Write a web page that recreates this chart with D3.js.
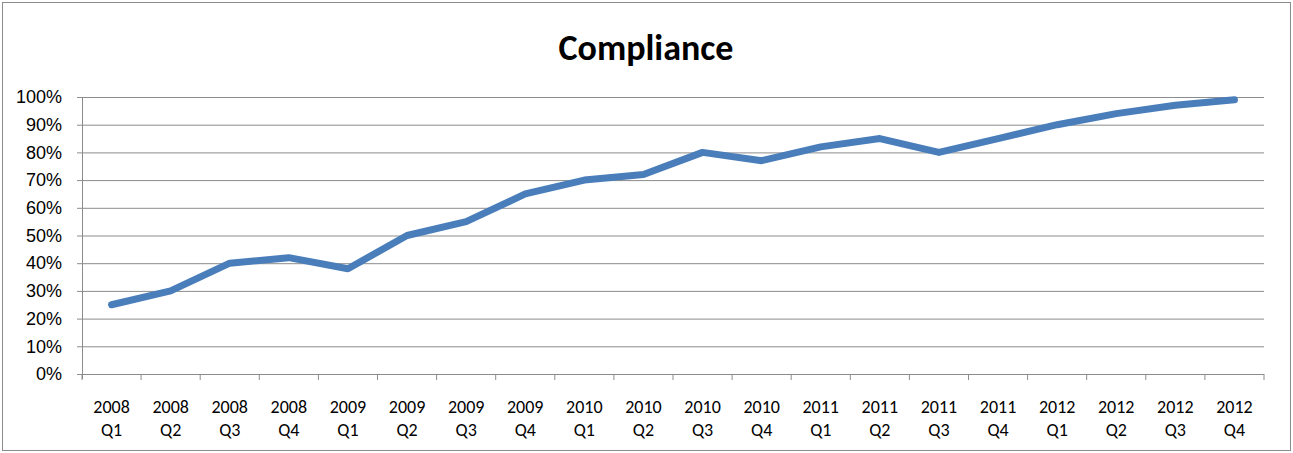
<!DOCTYPE html>
<html>
<head>
<meta charset="utf-8">
<script src="https://cdn.jsdelivr.net/npm/d3@7"></script>
<style>
  body { margin: 0; background: #fff; }
  svg { display: block; font-family: Carlito, "Open Sans", "Liberation Sans", sans-serif; }
</style>
</head>
<body>
<svg id="chart" width="1293" height="453"></svg>
<script>
var years = ["2008","2008","2008","2008","2009","2009","2009","2009","2010","2010","2010","2010","2011","2011","2011","2011","2012","2012","2012","2012"];
var quarters = ["Q1","Q2","Q3","Q4","Q1","Q2","Q3","Q4","Q1","Q2","Q3","Q4","Q1","Q2","Q3","Q4","Q1","Q2","Q3","Q4"];
var compliance = [25, 30, 40, 42, 38, 50, 55, 65, 70, 72, 80, 77, 82, 85, 80, 85, 90, 94, 97, 99];
var yTicks = [0, 10, 20, 30, 40, 50, 60, 70, 80, 90, 100];

var svg = d3.select("#chart");
var width = 1293, height = 453;
var margin = { left: 82, right: 29, top: 97, bottom: 79 };

// outer chart border
svg.append("rect")
  .attr("x", 2.5).attr("y", 2.5)
  .attr("width", width - 5).attr("height", height - 5)
  .attr("fill", "#fff")
  .attr("stroke", "#8c8c8c")
  .attr("stroke-width", 1);

svg.append("text")
  .attr("x", 646).attr("y", 60)
  .attr("text-anchor", "middle")
  .attr("font-size", 36)
  .attr("font-weight", "bold")
  .text("Compliance");

var x = d3.scaleBand()
  .domain(d3.range(compliance.length))
  .range([margin.left, width - margin.right]);

var y = d3.scaleLinear()
  .domain([0, 100])
  .range([height - margin.bottom, margin.top]);

// gridlines + y labels
var yAxis = svg.append("g")
  .attr("transform", "translate(" + margin.left + ",0)")
  .call(d3.axisLeft(y)
    .tickValues(yTicks)
    .tickSize(-(width - margin.left - margin.right))
    .tickPadding(20)
    .tickFormat(function(d) { return d + "%"; }));
yAxis.select(".domain").remove();
yAxis.selectAll(".tick line").attr("stroke", "#8c8c8c").attr("x1", -5);
yAxis.selectAll(".tick text")
  .attr("font-size", 18)
  .attr("fill", "#000")
  .attr("font-family", null);

// vertical axis line
svg.append("line")
  .attr("x1", margin.left + 0.5).attr("x2", margin.left + 0.5)
  .attr("y1", y(100)).attr("y2", y(0) + 5)
  .attr("stroke", "#8c8c8c");

// x axis with ticks at category boundaries
var xAxisY = y(0);
var bounds = d3.range(compliance.length + 1).map(function(i) {
  return i < compliance.length ? x(i) : x(i - 1) + x.bandwidth();
});
svg.append("g").selectAll("line")
  .data(bounds)
  .enter().append("line")
  .attr("x1", function(d) { return d; })
  .attr("x2", function(d) { return d; })
  .attr("y1", xAxisY).attr("y2", xAxisY + 6)
  .attr("stroke", "#8c8c8c");

var xl = svg.append("g").selectAll("text")
  .data(compliance)
  .enter().append("text")
  .attr("text-anchor", "middle")
  .attr("font-size", 18)
  .attr("x", function(d, i) { return x(i) + x.bandwidth() / 2; });
xl.append("tspan")
  .attr("x", function(d, i) { return x(i) + x.bandwidth() / 2; })
  .attr("y", xAxisY + 39)
  .text(function(d, i) { return years[i]; });
xl.append("tspan")
  .attr("x", function(d, i) { return x(i) + x.bandwidth() / 2; })
  .attr("y", xAxisY + 62)
  .text(function(d, i) { return quarters[i]; });

// series line
var line = d3.line()
  .x(function(d, i) { return x(i) + x.bandwidth() / 2; })
  .y(function(d) { return y(d); });

svg.append("path")
  .datum(compliance)
  .attr("d", line)
  .attr("fill", "none")
  .attr("stroke", "#4a7ebb")
  .attr("stroke-width", 7)
  .attr("stroke-linecap", "round")
  .attr("stroke-linejoin", "round");
</script>
</body>
</html>
